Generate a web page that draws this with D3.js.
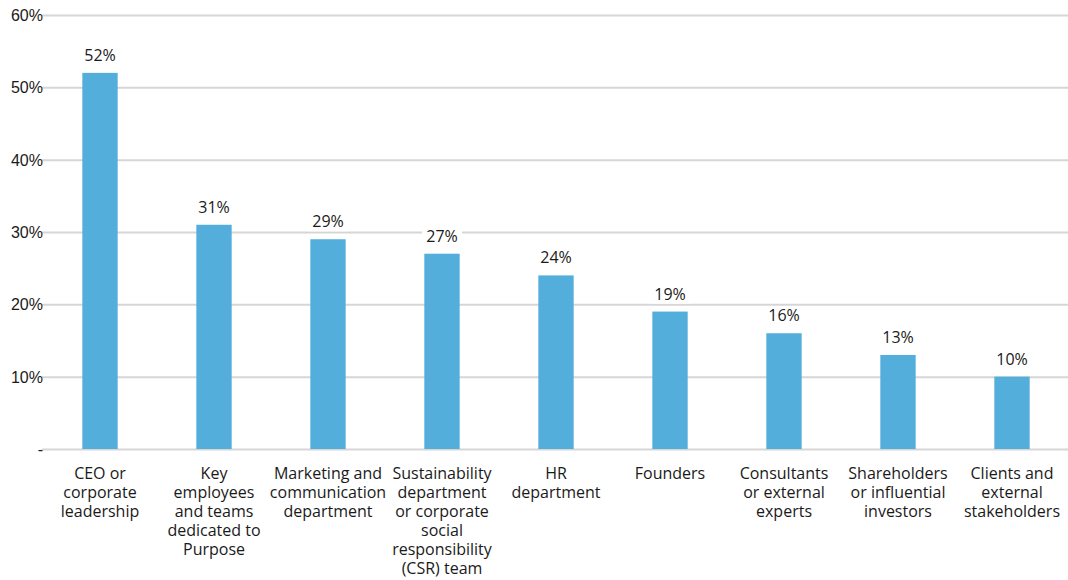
<!DOCTYPE html>
<html>
<head>
<meta charset="utf-8">
<script src="https://cdn.jsdelivr.net/npm/d3@7"></script>
<style>
  html, body { margin: 0; padding: 0; background: #fff; }
  svg { display: block; font-family: "Open Sans", Lato, sans-serif; }
</style>
</head>
<body>
<svg id="chart" width="1068" height="580"></svg>
<script>
// Who drives Purpose inside the organisation (share of respondents)
const categories = [
  ["CEO or", "corporate", "leadership"],
  ["Key", "employees", "and teams", "dedicated to", "Purpose"],
  ["Marketing and", "communication", "department"],
  ["Sustainability", "department", "or corporate", "social", "responsibility", "(CSR) team"],
  ["HR", "department"],
  ["Founders"],
  ["Consultants", "or external", "experts"],
  ["Shareholders", "or influential", "investors"],
  ["Clients and", "external", "stakeholders"]
];
const values = [52, 31, 29, 27, 24, 19, 16, 13, 10];
const yTicks = [0, 10, 20, 30, 40, 50, 60];

const svg = d3.select("#chart");
const margin = { top: 15, right: 0, bottom: 131, left: 42 };
const W = 1068, H = 580;

const x = d3.scaleBand()
  .domain(d3.range(values.length))
  .range([margin.left, W - margin.right])
  .paddingInner(0.69)
  .paddingOuter(0.345);

const y = d3.scaleLinear()
  .domain([0, 60])
  .range([H - margin.bottom, margin.top]);

// gridlines and y labels
const yAxis = d3.axisLeft(y)
  .tickValues(yTicks)
  .tickSize(-(W - margin.left - margin.right))
  .tickPadding(0)
  .tickFormat(d => d === 0 ? "-" : d + "%");

const gy = svg.append("g")
  .attr("transform", `translate(${margin.left},0)`)
  .call(yAxis);
gy.select(".domain").remove();
gy.selectAll(".tick line").attr("stroke", "#d6d6d6").attr("stroke-width", 2);
gy.selectAll(".tick text")
  .attr("x", 1)
  .attr("fill", "#1a1a1a")
  .style("font-size", "16px")
  .attr("dy", "0.35em");

// bars
svg.append("g").selectAll("rect")
  .data(values)
  .join("rect")
  .attr("x", (d, i) => x(i) + 1)
  .attr("y", d => y(d))
  .attr("width", x.bandwidth())
  .attr("height", d => y(0) - y(d))
  .attr("fill", "#53aedc");

// value labels with white backing
const lbl = svg.append("g").selectAll("g")
  .data(values)
  .join("g")
  .attr("transform", (d, i) => `translate(${x(i) + x.bandwidth() / 2 + 1},${y(d) - 12})`);
lbl.append("rect")
  .attr("x", -20).attr("y", -15).attr("width", 40).attr("height", 19)
  .attr("fill", "#fff");
lbl.append("text")
  .attr("text-anchor", "middle")
  .attr("fill", "#1a1a1a")
  .style("font-size", "16px")
  .text(d => d + "%");

// category labels
const cat = svg.append("g").selectAll("text")
  .data(categories)
  .join("text")
  .attr("text-anchor", "middle")
  .attr("fill", "#1a1a1a")
  .style("font-size", "16px")
  .attr("transform", (d, i) => `translate(${x(i) + x.bandwidth() / 2 + 1},479)`);
cat.selectAll("tspan")
  .data(d => d)
  .join("tspan")
  .attr("x", 0)
  .attr("y", (d, j) => j * 19)
  .text(d => d);
</script>
</body>
</html>
